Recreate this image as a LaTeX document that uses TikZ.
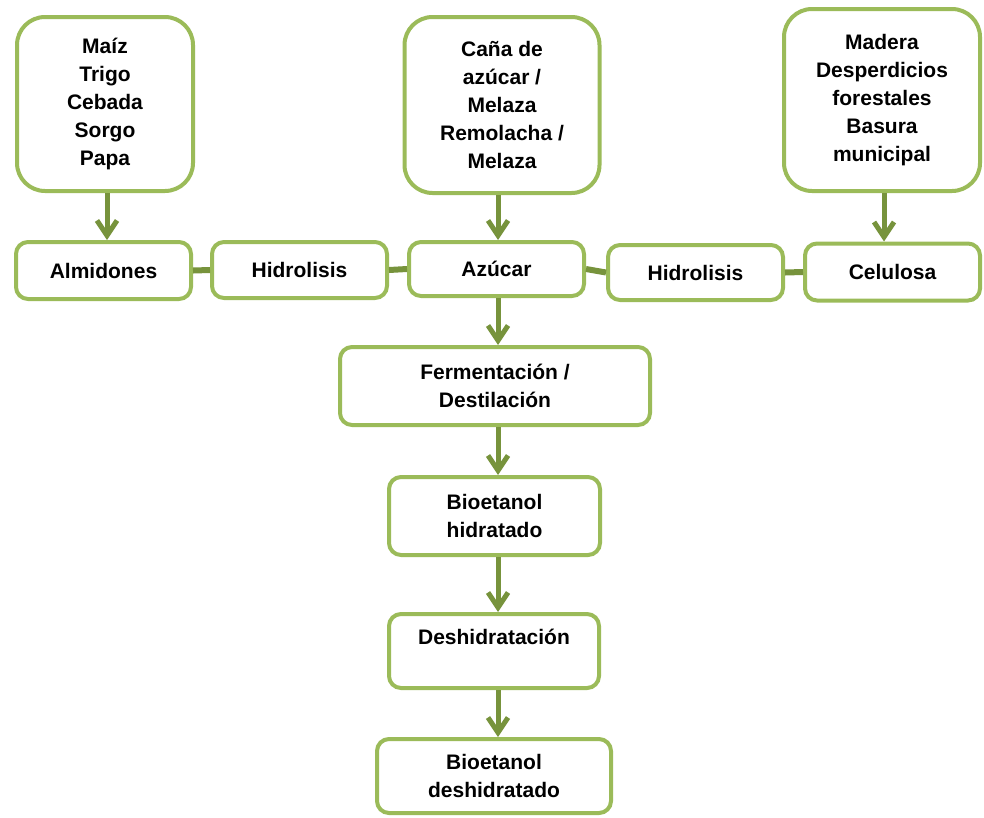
\documentclass[tikz,border=0pt]{standalone}
\usepackage{fontspec}
\setmainfont{Liberation Sans}
\usetikzlibrary{arrows.meta}
\definecolor{boxgreen}{HTML}{9BBB59}
\definecolor{arrgreen}{HTML}{77933C}
\tikzset{
  box/.style={draw=boxgreen, line width=4pt, fill=white, rounded corners=12pt, align=center,
    font=\fontsize{21pt}{28pt}\selectfont\bfseries, inner sep=0pt},
  bigbox/.style={box, rounded corners=28pt},
  arr/.style={draw=arrgreen, line width=5pt, -{Straight Barb[length=15pt,width=20pt,line width=5pt]}},
  link/.style={draw=arrgreen, line width=6pt}
}
\begin{document}
\begin{tikzpicture}[x=1pt,y=-1pt]
\useasboundingbox (0,0) rectangle (984,817);
\node[bigbox, minimum width=176pt, minimum height=174pt] (b1) at (105,104) {Maíz\\Trigo\\Cebada\\Sorgo\\Papa};
\node[bigbox, minimum width=195pt, minimum height=176pt] (b2) at (502,105) {Caña de\\azúcar /\\Melaza\\Remolacha /\\Melaza};
\node[bigbox, minimum width=196pt, minimum height=182pt] (b3) at (882,100) {Madera\\Desperdicios\\forestales\\Basura\\municipal};
\node[box, minimum width=175pt, minimum height=57pt] (alm) at (103.5,270.5) {Almidones};
\node[box, minimum width=175pt, minimum height=56pt] (hid1) at (299.5,270) {Hidrolisis};
\node[box, minimum width=175pt, minimum height=54pt] (azu) at (496.5,269) {Azúcar};
\node[box, minimum width=175pt, minimum height=55pt] (hid2) at (695.5,272.5) {Hidrolisis};
\node[box, minimum width=175pt, minimum height=57pt] (cel) at (892.5,272) {Celulosa};
\node[box, minimum width=310pt, minimum height=78pt] (fer) at (495,386) {Fermentación /\\Destilación};
\node[box, minimum width=211pt, minimum height=78pt] (bioh) at (494.5,516) {Bioetanol\\hidratado};
\node[box, minimum width=210pt, minimum height=74pt] (des) at (494,651) {Deshidratación\\~};
\node[box, minimum width=234pt, minimum height=74pt] (biod) at (494,776) {Bioetanol\\deshidratado};
\draw[arr] (b1.south) ++(2,0) coordinate (a1) -- (a1 |- alm.north);
\draw[arr] (b2.south) ++(-4,0) coordinate (a2) -- (a2 |- azu.north);
\draw[arr] (b3.south) ++(2,0) coordinate (a3) -- (a3 |- cel.north);
\draw[link] (alm.east) -- (hid1.west);
\draw[link] (hid1.east) -- (azu.west);
\draw[link] (azu.east) -- (hid2.west);
\draw[link] (hid2.east) -- (cel.west);
\draw[arr] (azu.south) ++(1.5,0) coordinate (a4) -- (a4 |- fer.north);
\draw[arr] (fer.south) ++(3,0) coordinate (a5) -- (a5 |- bioh.north);
\draw[arr] (bioh.south) ++(3.5,0) coordinate (a6) -- (a6 |- des.north);
\draw[arr] (des.south) ++(4,0) coordinate (a7) -- (a7 |- biod.north);
\end{tikzpicture}
\end{document}
